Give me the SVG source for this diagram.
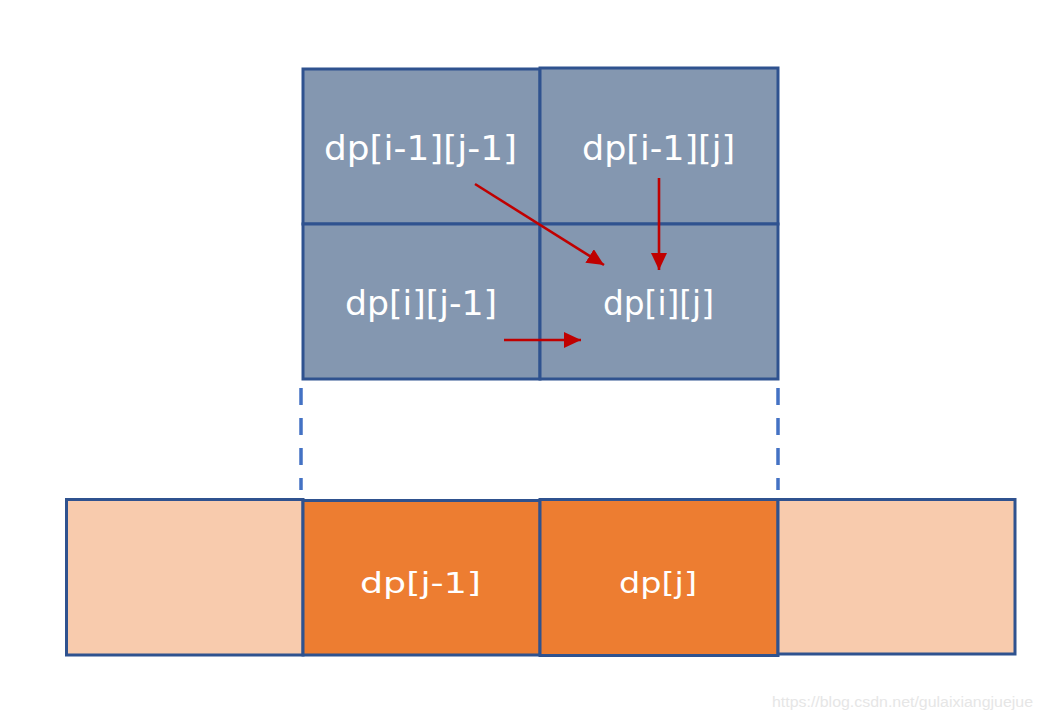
<svg xmlns="http://www.w3.org/2000/svg" width="1043" height="720" viewBox="0 0 1043 720">
<style>
.grid{fill:#8497B0;stroke:#2F528F;stroke-width:3}
.dark{fill:#ED7D31;stroke:#2F528F;stroke-width:3}
.light{fill:#F8CBAD;stroke:#2F528F;stroke-width:3}
.lbl{font-family:"DejaVu Sans",sans-serif;fill:#FFFFFF}
.top{font-size:34px}
.bot{font-size:29px}
.arrow{stroke:#C00000;stroke-width:2.6;fill:none}
.dash{stroke:#4472C4;stroke-width:3.5;stroke-dasharray:17 13;fill:none}
.wm{font-family:"Liberation Sans",Arial,sans-serif;font-size:14px;fill:#E6E6E6}
</style>
<defs>
<marker id="ah" markerUnits="userSpaceOnUse" markerWidth="18" markerHeight="16" refX="17" refY="8" orient="auto">
<path d="M0,0 L17,8 L0,16 Z" fill="#C00000"/>
</marker>
</defs>
<rect width="1043" height="720" fill="#FFFFFF"/>
<g id="cell-i1j1"><rect class="grid" x="303" y="69" width="237" height="155"/><text class="lbl top" x="324" y="160" textLength="193" lengthAdjust="spacingAndGlyphs">dp[i-1][j-1]</text></g>
<g id="cell-i1j"><rect class="grid" x="540" y="68" width="238" height="156"/><text class="lbl top" x="582" y="160" textLength="153" lengthAdjust="spacingAndGlyphs">dp[i-1][j]</text></g>
<g id="cell-ij1"><rect class="grid" x="303" y="224" width="237" height="155"/><text class="lbl top" x="345" y="315" textLength="152" lengthAdjust="spacingAndGlyphs">dp[i][j-1]</text></g>
<g id="cell-ij"><rect class="grid" x="540" y="224" width="238" height="155"/><text class="lbl top" x="603" y="315" textLength="111" lengthAdjust="spacingAndGlyphs">dp[i][j]</text></g>
<g id="row-left"><rect class="light" x="66.5" y="499.5" width="236.5" height="155.5"/></g>
<g id="row-j1"><rect class="dark" x="303" y="500.5" width="237" height="154.5"/><text class="lbl bot" x="360" y="593" textLength="121" lengthAdjust="spacingAndGlyphs">dp[j-1]</text></g>
<g id="row-j"><rect class="dark" x="540" y="499.5" width="238" height="156"/><text class="lbl bot" x="619" y="593" textLength="78" lengthAdjust="spacingAndGlyphs">dp[j]</text></g>
<g id="row-right"><rect class="light" x="778" y="499.5" width="237" height="154.5"/></g>
<g id="connectors">
<line class="arrow" x1="475" y1="184" x2="604" y2="265" marker-end="url(#ah)"/>
<line class="arrow" x1="659" y1="178" x2="659" y2="270" marker-end="url(#ah)"/>
<line class="arrow" x1="504" y1="340" x2="581" y2="340" marker-end="url(#ah)"/>
<line class="dash" x1="301" y1="388" x2="301" y2="490"/>
<line class="dash" x1="778" y1="388" x2="778" y2="490"/>
</g>
<text class="wm" x="772" y="707" textLength="261" lengthAdjust="spacingAndGlyphs">https://blog.csdn.net/gulaixiangjuejue</text>
</svg>
